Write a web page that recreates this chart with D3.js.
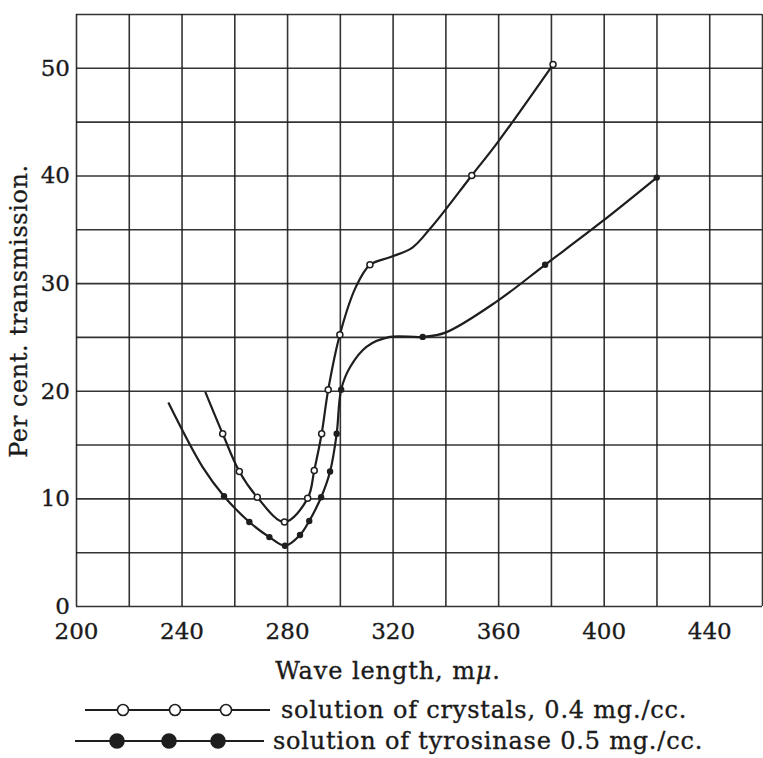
<!DOCTYPE html>
<html><head><meta charset="utf-8">
<script src="https://cdn.jsdelivr.net/npm/d3@7"></script>
<style>
html,body{margin:0;padding:0;background:#fff;}
svg text{font-family:"DejaVu Serif",serif;fill:#1a1a1a;}
</style></head>
<body>
<svg id="chart" width="763" height="758"></svg>
<script>
// ---- data ----
const xTickLabels = [200, 240, 280, 320, 360, 400, 440];
const yTickLabels = [0, 10, 20, 30, 40, 50];
const xGridValues = [200,220,240,260,280,300,320,340,360,380,400,420,440,460];
const yGridValues = [0,5,10,15,20,25,30,35,40,45,50,55];

// solution of crystals, 0.4 mg./cc. (open circles)
const crystalWl = [249, 255.6, 261.9, 268.7, 279, 287.8, 290.3, 293.1, 295.6, 300, 306, 311.4, 319, 327.5, 334, 339, 350, 359.6, 380.8];
const crystalT  = [19.9, 16.0, 12.5, 10.1, 7.8, 10.0, 12.6, 16.0, 20.1, 25.2, 29.6, 31.7, 32.4, 33.3, 35.0, 36.5, 40.0, 43.0, 50.3];
const crystalMeasured = [false,true,true,true,true,true,true,true,true,true,false,true,false,false,false,false,true,false,true];

// solution of tyrosinase 0.5 mg./cc. (filled circles)
const tyrWl = [235, 248, 256.1, 265.7, 273.3, 279.2, 284.9, 288.4, 292.9, 296.3, 298.8, 300.5, 303.9, 310.2, 319, 331.4, 340, 359.5, 377.8, 399.3, 420.1];
const tyrT  = [18.9, 12.9, 10.2, 7.8, 6.4, 5.6, 6.6, 7.9, 10.1, 12.5, 16.0, 20.1, 22.2, 24.1, 25.0, 25.0, 25.4, 28.3, 31.7, 35.7, 39.8];
const tyrMeasured = [false,false,true,true,true,true,true,true,true,true,true,true,false,false,false,true,false,false,true,false,true];

const xLabel = "Wave length, m";
const xLabelUnit = "\u03BC";
const yLabel = "Per cent. transmission.";
const legendLabels = ["solution of crystals, 0.4 mg./cc.", "solution of tyrosinase 0.5 mg./cc."];

// ---- layout ----
const svg = d3.select("#chart");
const margin = {left: 76, top: 14, right: 1, bottom: 152};
const W = 763, H = 758;
const x = d3.scaleLinear().domain([200, 460]).range([margin.left, W - margin.right]);
const y = d3.scaleLinear().domain([0, 55]).range([H - margin.bottom, margin.top]);
const ink = "#1e1e1e";
const textStyle = sel => sel.attr("fill", ink).attr("stroke", ink).attr("stroke-width", 0.35);

// grid
const gx = svg.append("g").attr("transform", `translate(0,${y(0)})`)
  .call(d3.axisBottom(x).tickValues(xGridValues).tickSize(-(y(0) - y(55))).tickFormat(""));
const gy = svg.append("g").attr("transform", `translate(${x(200)},0)`)
  .call(d3.axisLeft(y).tickValues(yGridValues).tickSize(-(x(460) - x(200))).tickFormat(""));
[gx, gy].forEach(g => {
  g.select(".domain").remove();
  g.selectAll(".tick line").attr("stroke", ink).attr("stroke-width", 1.6).attr("stroke-opacity", 0.9);
});

// tick labels
const xl = svg.append("g").attr("transform", `translate(0,${y(0)})`)
  .call(d3.axisBottom(x).tickValues(xTickLabels).tickSize(0).tickPadding(17).tickFormat(d3.format("d")));
xl.select(".domain").remove();
xl.selectAll("text").attr("font-size", 23).attr("font-family", "DejaVu Serif").call(textStyle);

const yl = svg.append("g").attr("transform", `translate(${x(200)},0)`)
  .call(d3.axisLeft(y).tickValues(yTickLabels).tickSize(0).tickPadding(6).tickFormat(d3.format("d")));
yl.select(".domain").remove();
yl.selectAll("text").attr("font-size", 23).attr("font-family", "DejaVu Serif").call(textStyle);

// curves
const line = d3.line().x(d => x(d[0])).y(d => y(d[1])).curve(d3.curveCatmullRom.alpha(0.5));
const crystal = crystalWl.map((w, i) => [w, crystalT[i], crystalMeasured[i]]);
const tyr = tyrWl.map((w, i) => [w, tyrT[i], tyrMeasured[i]]);

svg.append("path").datum(tyr).attr("d", line).attr("fill", "none").attr("stroke", ink).attr("stroke-width", 2.2);
svg.append("path").datum(crystal).attr("d", line).attr("fill", "none").attr("stroke", ink).attr("stroke-width", 2.2);

svg.append("g").selectAll("circle").data(tyr.filter(d => d[2])).join("circle")
  .attr("cx", d => x(d[0])).attr("cy", d => y(d[1])).attr("r", 3.2).attr("fill", ink);
svg.append("g").selectAll("circle").data(crystal.filter(d => d[2])).join("circle")
  .attr("cx", d => x(d[0])).attr("cy", d => y(d[1])).attr("r", 3).attr("fill", "#fff")
  .attr("stroke", ink).attr("stroke-width", 1.5);

// axis titles
const xt = svg.append("text").attr("x", 388).attr("y", 679).attr("text-anchor", "middle")
  .attr("font-size", 24).attr("letter-spacing", 0.9).call(textStyle);
xt.append("tspan").text(xLabel);
xt.append("tspan").attr("font-style", "italic").text(xLabelUnit);
xt.append("tspan").text(".");

svg.append("text").attr("transform", `translate(27,311) rotate(-90)`).attr("text-anchor", "middle")
  .attr("font-size", 24).attr("letter-spacing", 0.6).call(textStyle).text(yLabel);

// legend
const legRows = [
  {y: 710, x0: 85, x1: 270, cx: [123, 175, 226], r: 5.5, filled: false, tx: 281, ty: 718},
  {y: 741, x0: 75, x1: 264, cx: [117, 169, 218], r: 7, filled: true, tx: 273, ty: 749}
];
legRows.forEach((row, i) => {
  const g = svg.append("g");
  g.append("line").attr("x1", row.x0).attr("x2", row.x1).attr("y1", row.y).attr("y2", row.y)
    .attr("stroke", ink).attr("stroke-width", 2);
  g.selectAll("circle").data(row.cx).join("circle").attr("cx", d => d).attr("cy", row.y).attr("r", row.r)
    .attr("fill", row.filled ? ink : "#fff").attr("stroke", ink).attr("stroke-width", 1.6);
  g.append("text").attr("x", row.tx).attr("y", row.ty).attr("font-size", 24).attr("letter-spacing", 0.8)
    .call(textStyle).text(legendLabels[i]);
});
</script>
</body></html>
